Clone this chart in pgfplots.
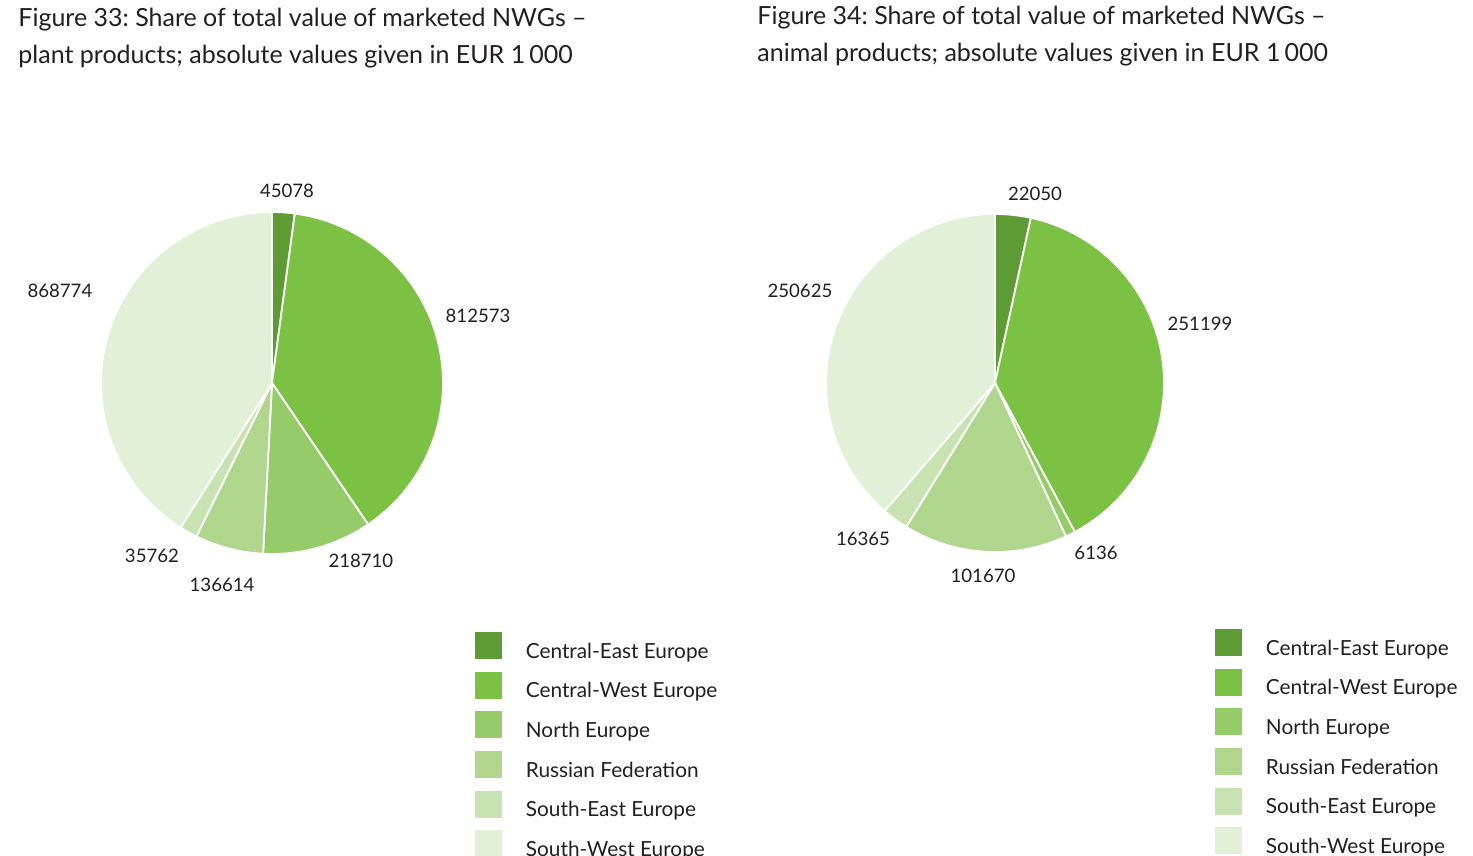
\documentclass[border=0pt]{standalone}
\usepackage{pgfplots}
\pgfplotsset{compat=1.18}
\usepackage{fontspec}
\setmainfont{Lato}
\frenchspacing
\definecolor{cA}{HTML}{5E9B35}
\definecolor{cB}{HTML}{7BC143}
\definecolor{cC}{HTML}{96CB69}
\definecolor{cD}{HTML}{B0D68D}
\definecolor{cE}{HTML}{C8E2B2}
\definecolor{cF}{HTML}{E2F0D7}
\definecolor{txt}{HTML}{231F20}
% plant products (EUR 1 000)
\def\pa{45078}\def\pb{812573}\def\pc{218710}\def\pd{136614}\def\pe{35762}\def\pf{868774}
% animal products (EUR 1 000)
\def\qa{22050}\def\qb{251199}\def\qc{6136}\def\qd{101670}\def\qe{16365}\def\qf{250625}
\edef\pT{\fpeval{\pa+\pb+\pc+\pd+\pe+\pf}}
\edef\pAa{\fpeval{90-360*\pa/\pT}}
\edef\pAb{\fpeval{\pAa-360*\pb/\pT}}
\edef\pAc{\fpeval{\pAb-360*\pc/\pT}}
\edef\pAd{\fpeval{\pAc-360*\pd/\pT}}
\edef\pAe{\fpeval{\pAd-360*\pe/\pT}}
\edef\qT{\fpeval{\qa+\qb+\qc+\qd+\qe+\qf}}
\edef\qAa{\fpeval{90-360*\qa/\qT}}
\edef\qAb{\fpeval{\qAa-360*\qb/\qT}}
\edef\qAc{\fpeval{\qAb-360*\qc/\qT}}
\edef\qAd{\fpeval{\qAc-360*\qd/\qT}}
\edef\qAe{\fpeval{\qAd-360*\qe/\qT}}
\tikzset{lab/.style={font=\fontsize{9.3}{11}\selectfont, text=txt},
  ttl/.style={anchor=base west, text=txt, font=\fontsize{12.5}{14}\selectfont, inner sep=0pt}}
\pgfplotsset{
  pie/.style={
    hide axis, scale only axis, clip=false,
    xmin=-1, xmax=1, ymin=-1, ymax=1,
    anchor=center,
    legend entries={Central-East Europe, Central-West Europe, North Europe, Russian Federation, South-East Europe, South-West Europe},
    legend image code/.code={\fill[##1,draw=none] (0pt,-3.5pt) rectangle (13.5pt,10pt); \path (25pt,0pt);},
    legend style={draw=none, fill=none, anchor=north west, inner sep=0pt, outer sep=0pt,
      row sep=5.25pt, font=\fontsize{10.4}{12}\selectfont, text=txt,
      nodes={inner sep=0pt}},
    legend cell align=left,
  },
  slice/.style={fill=#1, draw=white, line width=0.9pt, line join=round, samples=90, variable=\t},
}
\begin{document}
\begin{tikzpicture}
\path[use as bounding box] (0,0) rectangle (736.5pt,-428pt);
\node[ttl] at (9pt,-13.5pt) {Figure 33: Share of total value of marketed NWGs –};
\node[ttl] at (9pt,-32pt) {plant products; absolute values given in EUR 1\,000};
\node[ttl] at (378.5pt,-12.5pt) {Figure 34: Share of total value of marketed NWGs –};
\node[ttl] at (378.5pt,-31pt) {animal products; absolute values given in EUR 1\,000};
\begin{axis}[pie, at={(136pt,-191.5pt)}, width=171pt, height=171pt,
  legend style={at={(1.0935,-0.228)}}]
\addplot[slice=cA, domain=\pAa:90] ({cos(\t)},{sin(\t)}) -- (axis cs:0,0) -- cycle;
\addplot[slice=cB, domain=\pAb:\pAa] ({cos(\t)},{sin(\t)}) -- (axis cs:0,0) -- cycle;
\addplot[slice=cC, domain=\pAc:\pAb] ({cos(\t)},{sin(\t)}) -- (axis cs:0,0) -- cycle;
\addplot[slice=cD, domain=\pAd:\pAc] ({cos(\t)},{sin(\t)}) -- (axis cs:0,0) -- cycle;
\addplot[slice=cE, domain=\pAe:\pAd] ({cos(\t)},{sin(\t)}) -- (axis cs:0,0) -- cycle;
\addplot[slice=cF, domain=-270:\pAe] ({cos(\t)},{sin(\t)}) -- (axis cs:0,0) -- cycle;
\node[lab] at (axis cs:0.088,1.123) {\pa};
\node[lab] at (axis cs:1.205,0.392) {\pb};
\node[lab] at (axis cs:0.520,-1.041) {\pc};
\node[lab] at (axis cs:-0.292,-1.181) {\pd};
\node[lab] at (axis cs:-0.702,-1.012) {\pe};
\node[lab] at (axis cs:-1.240,0.538) {\pf};
\end{axis}
\begin{axis}[pie, at={(497.5pt,-191.5pt)}, width=169pt, height=169pt,
  legend style={at={(1.151,-0.228)}}]
\addplot[slice=cA, domain=\qAa:90] ({cos(\t)},{sin(\t)}) -- (axis cs:0,0) -- cycle;
\addplot[slice=cB, domain=\qAb:\qAa] ({cos(\t)},{sin(\t)}) -- (axis cs:0,0) -- cycle;
\addplot[slice=cC, domain=\qAc:\qAb] ({cos(\t)},{sin(\t)}) -- (axis cs:0,0) -- cycle;
\addplot[slice=cD, domain=\qAd:\qAc] ({cos(\t)},{sin(\t)}) -- (axis cs:0,0) -- cycle;
\addplot[slice=cE, domain=\qAe:\qAd] ({cos(\t)},{sin(\t)}) -- (axis cs:0,0) -- cycle;
\addplot[slice=cF, domain=-270:\qAe] ({cos(\t)},{sin(\t)}) -- (axis cs:0,0) -- cycle;
\node[lab] at (axis cs:0.237,1.118) {\qa};
\node[lab] at (axis cs:1.213,0.349) {\qb};
\node[lab] at (axis cs:0.598,-1.006) {\qc};
\node[lab] at (axis cs:-0.071,-1.142) {\qd};
\node[lab] at (axis cs:-0.781,-0.923) {\qe};
\node[lab] at (axis cs:-1.154,0.544) {\qf};
\end{axis}
\end{tikzpicture}
\end{document}
